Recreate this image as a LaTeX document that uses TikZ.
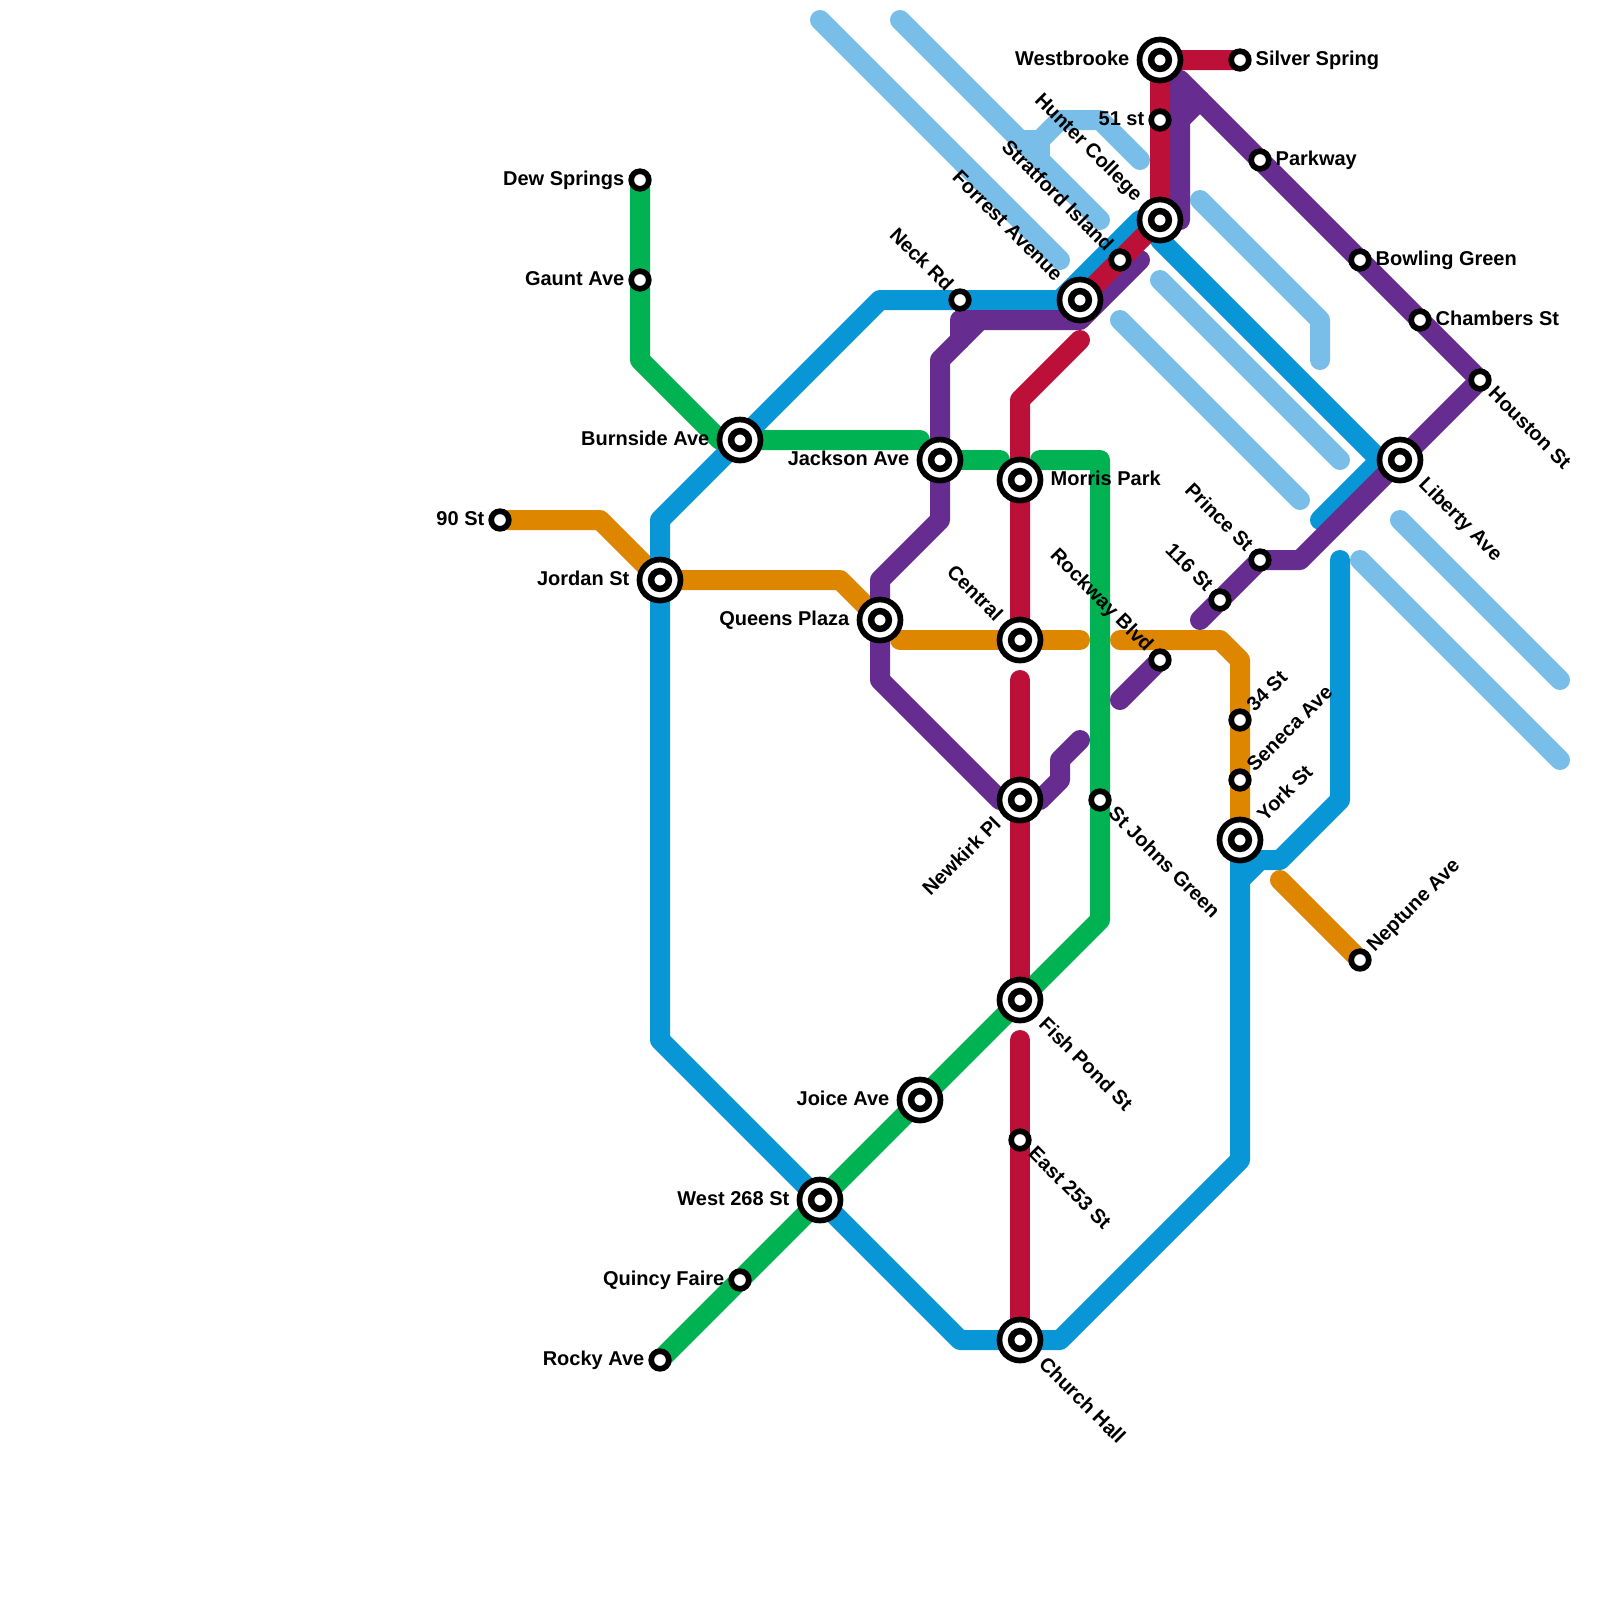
\documentclass[tikz,border=0pt]{standalone}
\usepackage{fontspec}
\setmainfont{Liberation Sans}
\definecolor{clRed}{HTML}{BD1038}
\definecolor{clPurple}{HTML}{662C90}
\definecolor{clBlue}{HTML}{0896D7}
\definecolor{clGreen}{HTML}{00B251}
\definecolor{clOrange}{HTML}{DF8600}
\definecolor{clSky}{HTML}{79BDE9}
\usetikzlibrary{backgrounds}
\tikzset{
  line/.style={line width=.2cm,line cap=round,line join=round,draw=#1},
  stnSmall/.style={circle,draw=black,fill=white,line width=.057cm,minimum size=.176cm,inner sep=0pt},
  stnBig/.style={circle,draw=black,fill=white,line width=.057cm,minimum size=.41cm,inner sep=0pt},
  stnIn/.style={circle,draw=black,fill=white,line width=.065cm,minimum size=.178cm,inner sep=0pt},
  lbl/.style={font=\fontsize{5.69}{6.8}\selectfont\bfseries,text=black,inner sep=0pt},
  lbR/.style={lbl,anchor=mid west,xshift=#1,yshift=.04cm},
  lbL/.style={lbl,anchor=mid east,xshift=-#1,yshift=.04cm},
  lbDR/.style={lbl,anchor=mid west,rotate=-45,xshift=#1,yshift=.04cm},
  lbUL/.style={lbl,anchor=mid east,rotate=-45,xshift=-#1,yshift=.04cm},
  lbUR/.style={lbl,anchor=mid west,rotate=45,xshift=#1,yshift=.04cm},
  lbDL/.style={lbl,anchor=mid east,rotate=45,xshift=-#1,yshift=.04cm},
}
\begin{document}
\begin{tikzpicture}[x=.2cm,y=-.2cm]
  \useasboundingbox (0,0) rectangle (80,80);
  \foreach \nm/\x/\y in {westbrooke/58/3,hunterCollege/58/11,forrestAvenue/54/15,burnsideAve/37/22,jacksonAve/47/23,morrisPark/51/24,libertyAve/70/23,jordanSt/33/29,queensPlaza/44/31,central/51/32,newkirkPl/51/40,yorkSt/62/42,fishPondSt/51/50,joiceAve/46/55,westSt/41/60,churchHall/51/67}
    {\node[stnBig] (\nm) at (\x,\y) {}; \node[stnIn] (\nm-in) at (\nm.center) {};}
  \foreach \nm/\x/\y in {silverSpring/62/3,fiftyFirst/58/6,parkway/63/8,dewSprings/32/9,stratford/56/13,bowlingGreen/68/13,gauntAve/32/14,neckRd/48/15,chambersSt/71/16,houstonSt/74/19,ninetySt/25/26,princeSt/63/28,oneSixteen/61/30,rockwayBlvd/58/33,thirtyFour/62/36,senecaAve/62/39,stJohns/55/40,neptuneAve/68/48,eastSt/51/57,quincyFaire/37/64,rockyAve/33/68}
    \node[stnSmall] (\nm) at (\x,\y) {};
  \coordinate (skyA) at (41,1); \coordinate (skyB) at (53,13);
  \coordinate (skyC) at (45,1); \coordinate (skyD) at (55,11);
  \coordinate (skyE) at (52,7); \coordinate (skyF) at (57,8);
  \coordinate (skyG) at (51,7); \coordinate (skyH) at (52,8);
  \coordinate (skyI) at (60,10); \coordinate (skyJ) at (66,18);
  \coordinate (skyK) at (58,14); \coordinate (skyL) at (67,23);
  \coordinate (skyM) at (56,16); \coordinate (skyN) at (65,25);
  \coordinate (skyO) at (70,26); \coordinate (skyP) at (78,34);
  \coordinate (skyQ) at (68,28); \coordinate (skyR) at (78,38);
  \coordinate (redA) at (54,17); \coordinate (redB) at (51,34); \coordinate (redC) at (51,52);
  \coordinate (bluA) at (66,26); \coordinate (bluB) at (67,28); \coordinate (bluC) at (62,44);
  \coordinate (purA) at (49,16); \coordinate (purB) at (57,13); \coordinate (purC) at (54,37);
  \coordinate (purD) at (60,31); \coordinate (purE) at (56,35); \coordinate (purF) at (60,5);
  \coordinate (grnA) at (46,22); \coordinate (grnB) at (50,23); \coordinate (grnC) at (52,23);
  \coordinate (orgA) at (45,32); \coordinate (orgB) at (54,32); \coordinate (orgC) at (56,32);
  \coordinate (orgD) at (64,44);
  \begin{scope}[on background layer]
    \draw[line=clSky] (skyA) -- (skyB);
    \draw[line=clSky] (skyC) -- (skyD);
    \draw[line=clSky] (skyE) -- (53,6) -- (55,6) -- (skyF);
    \draw[line=clSky] (skyG) -- (skyE) -- (skyH);
    \draw[line=clSky] (skyI) -- (66,16) -- (skyJ);
    \draw[line=clSky] (skyK) -- (skyL);
    \draw[line=clSky] (skyM) -- (skyN);
    \draw[line=clSky] (skyO) -- (skyP);
    \draw[line=clSky] (skyQ) -- (skyR);
    \draw[line=clOrange] (ninetySt.center) -- (30,26) -- (jordanSt.center) -- (42,29) -- (queensPlaza.center);
    \draw[line=clOrange] (orgA) -- (central.center) -- (orgB);
    \draw[line=clOrange] (orgC) -- (61,32) -- (62,33) -- (thirtyFour.center) -- (senecaAve.center) -- (yorkSt.center);
    \draw[line=clOrange] (orgD) -- (neptuneAve.center);
    \draw[line=clGreen] (dewSprings.center) -- (gauntAve.center) -- (32,18) -- (36,22) -- (burnsideAve.center) -- (grnA);
    \draw[line=clGreen] (jacksonAve.center) -- (grnB);
    \draw[line=clGreen] (grnC) -- (55,23) -- (stJohns.center) -- (55,46) -- (fishPondSt.center) -- (joiceAve.center) -- (westSt.center) -- (quincyFaire.center) -- (rockyAve.center);
    \draw[line=clBlue] (hunterCollege.center) -- (57,11) -- (53,15) -- (44,15) -- (burnsideAve.center) -- (33,26) -- (jordanSt.center) -- (33,52) -- (westSt.center) -- (48,67) -- (churchHall.center) -- (53,67) -- (62,58) -- (yorkSt.center);
    \draw[line=clBlue] (hunterCollege.center) -- (58,12) -- (69,23) -- (bluA);
    \draw[line=clBlue] (bluC) -- (63,43) -- (64,43) -- (67,40) -- (bluB);
    \draw[line=clPurple] (purB) -- (54,16) -- (48,16) -- (48,17);
    \draw[line=clPurple] (purA) -- (47,18) -- (jacksonAve.center) -- (47,26) -- (44,29) -- (queensPlaza.center) -- (44,34) -- (50,40) -- (newkirkPl.center) -- (52,40) -- (53,39) -- (53,38) -- (purC);
    \draw[line=clPurple] (hunterCollege.center) -- (59,11) -- (59,4) -- (parkway.center) -- (bowlingGreen.center) -- (chambersSt.center) -- (houstonSt.center) -- (libertyAve.center) -- (65,28) -- (princeSt.center) -- (oneSixteen.center) -- (purD);
    \draw[line=clPurple] (59,6) -- (purF);
    \draw[line=clPurple] (rockwayBlvd.center) -- (purE);
    \draw[line=clRed] (silverSpring.center) -- (westbrooke.center) -- (fiftyFirst.center) -- (hunterCollege.center) -- (stratford.center) -- (forrestAvenue.center);
    \draw[line=clRed] (redA) -- (51,20) -- (morrisPark.center) -- (central.center);
    \draw[line=clRed] (redB) -- (newkirkPl.center) -- (fishPondSt.center);
    \draw[line=clRed] (redC) -- (eastSt.center) -- (churchHall.center);
  \end{scope}
  \node[lbL=.3cm] (lbWestbrooke) at (westbrooke.center) {Westbrooke};
  \node[lbR=.15cm] (lbSilverSpring) at (silverSpring.center) {Silver Spring};
  \node[lbL=.15cm] (lbFiftyFirst) at (fiftyFirst.center) {51 st};
  \node[lbR=.15cm] (lbParkway) at (parkway.center) {Parkway};
  \node[lbUL=.3cm] (lbHunter) at (hunterCollege.center) {Hunter College};
  \node[lbUL=.15cm] (lbStratford) at (stratford.center) {Stratford Island};
  \node[lbUL=.3cm] (lbForrest) at (forrestAvenue.center) {Forrest Avenue};
  \node[lbR=.15cm] (lbBowling) at (bowlingGreen.center) {Bowling Green};
  \node[lbR=.15cm] (lbChambers) at (chambersSt.center) {Chambers St};
  \node[lbDR=.15cm] (lbHouston) at (houstonSt.center) {Houston St};
  \node[lbDR=.3cm] (lbLiberty) at (libertyAve.center) {Liberty Ave};
  \node[lbUL=.15cm] (lbPrince) at (princeSt.center) {Prince St};
  \node[lbUL=.15cm] (lbOneSixteen) at (oneSixteen.center) {116 St};
  \node[lbUL=.15cm] (lbRockway) at (rockwayBlvd.center) {Rockway Blvd};
  \node[lbUR=.15cm] (lbThirtyFour) at (thirtyFour.center) {34 St};
  \node[lbUR=.15cm] (lbSeneca) at (senecaAve.center) {Seneca Ave};
  \node[lbUR=.3cm] (lbYork) at (yorkSt.center) {York St};
  \node[lbUR=.15cm] (lbNeptune) at (neptuneAve.center) {Neptune Ave};
  \node[lbDR=.15cm] (lbStJohns) at (stJohns.center) {St Johns Green};
  \node[lbR=.3cm] (lbMorris) at (morrisPark.center) {Morris Park};
  \node[lbUL=.3cm] (lbCentral) at (central.center) {Central};
  \node[lbDL=.3cm] (lbNewkirk) at (newkirkPl.center) {Newkirk Pl};
  \node[lbDR=.3cm] (lbFishPond) at (fishPondSt.center) {Fish Pond St};
  \node[lbDR=.15cm] (lbEastSt) at (eastSt.center) {East 253 St};
  \node[lbDR=.3cm] (lbChurch) at (churchHall.center) {Church Hall};
  \node[lbL=.3cm] (lbJoice) at (joiceAve.center) {Joice Ave};
  \node[lbL=.3cm] (lbWestSt) at (westSt.center) {West 268 St};
  \node[lbL=.15cm] (lbQuincy) at (quincyFaire.center) {Quincy Faire};
  \node[lbL=.15cm] (lbRocky) at (rockyAve.center) {Rocky Ave};
  \node[lbL=.3cm] (lbJackson) at (jacksonAve.center) {Jackson Ave};
  \node[lbL=.3cm] (lbQueens) at (queensPlaza.center) {Queens Plaza};
  \node[lbL=.3cm] (lbJordan) at (jordanSt.center) {Jordan St};
  \node[lbL=.15cm] (lbNinety) at (ninetySt.center) {90 St};
  \node[lbL=.3cm] (lbBurnside) at (burnsideAve.center) {Burnside Ave};
  \node[lbL=.15cm] (lbDew) at (dewSprings.center) {Dew Springs};
  \node[lbL=.15cm] (lbGaunt) at (gauntAve.center) {Gaunt Ave};
  \node[lbUL=.15cm] (lbNeck) at (neckRd.center) {Neck Rd};
\end{tikzpicture}
\end{document}
